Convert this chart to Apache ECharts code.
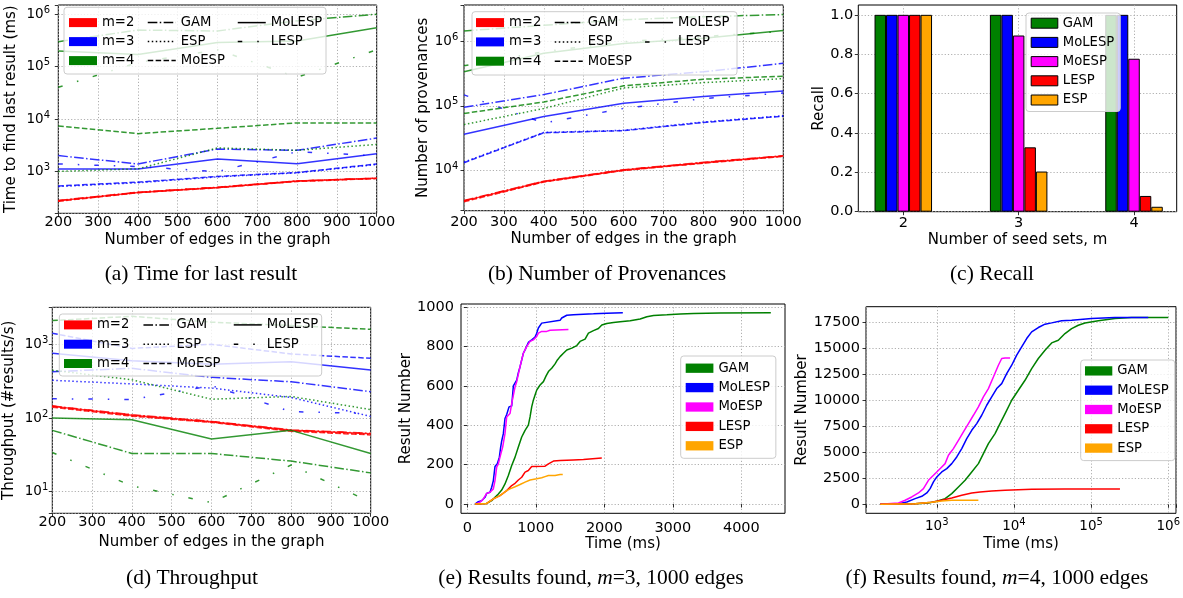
<!DOCTYPE html>
<html><head><meta charset="utf-8">
<script src="https://cdn.jsdelivr.net/npm/echarts@6.0.0/dist/echarts.min.js"></script>
<style>html,body{margin:0;padding:0;background:#fff}#c{width:1183px;height:598px}</style>
</head><body><div id="c"></div>
<script>
// ---------- DATA ----------
const edges = [200, 400, 600, 800, 1000];
const algs = ['GAM', 'ESP', 'MoESP', 'MoLESP', 'LESP'];
const mValues = [2, 3, 4];

// (a) time to find last result (ms)
const a_m2_GAM = [283, 405, 503, 662, 752];
const a_m2_ESP = [276, 400, 497, 655, 745];
const a_m2_MoESP = [272, 396, 492, 650, 738];
const a_m2_MoLESP = [280, 402, 500, 660, 750];
const a_m2_LESP = [278, 408, 505, 665, 755];
const a_m3_GAM = [2020, 1400, 2700, 2550, 4370];
const a_m3_ESP = [520, 615, 795, 950, 1370];
const a_m3_MoESP = [535, 630, 810, 960, 1400];
const a_m3_MoLESP = [1120, 1120, 1740, 1420, 2200];
const a_m3_LESP = [1400, 1250, 1000, 2400, 2000];
const a_m4_GAM = [300000, 500000, 480000, 750000, 1000000];
const a_m4_ESP = [1010, 1130, 2830, 2550, 3300];
const a_m4_MoESP = [7400, 5300, 6700, 8500, 8500];
const a_m4_MoLESP = [200000, 170000, 290000, 310000, 550000];
const a_m4_LESP = [40500, 120000, 210000, 63000, 210000];

// (b) number of provenances
const b_m2_GAM = [3350, 6700, 10100, 13200, 16700];
const b_m2_ESP = [3250, 6550, 9900, 12900, 16400];
const b_m2_MoESP = [3200, 6500, 9800, 12800, 16300];
const b_m2_MoLESP = [3300, 6600, 10000, 13000, 16500];
const b_m2_LESP = [3300, 6650, 10050, 13100, 16600];
const b_m3_GAM = [95000, 150000, 270000, 340000, 460000];
const b_m3_ESP = [13300, 38500, 41500, 56000, 70000];
const b_m3_MoESP = [13000, 38000, 41000, 55000, 69000];
const b_m3_MoLESP = [36000, 68000, 110000, 140000, 170000];
const b_m3_LESP = [148000, 54000, 91000, 130000, 158000];
const b_m4_GAM = [1470000, 1800000, 2200000, 2450000, 2650000];
const b_m4_ESP = [51000, 91000, 190000, 230000, 265000];
const b_m4_MoESP = [76000, 115000, 205000, 260000, 290000];
const b_m4_MoLESP = [340000, 660000, 940000, 1130000, 1500000];
const b_m4_LESP = [420000, 700000, 1000000, 1200000, 1450000];

// (c) recall
const c_GAM = [1.0, 1.0, 1.0];
const c_MoLESP = [1.0, 1.0, 1.0];
const c_MoESP = [1.0, 0.895, 0.777];
const c_LESP = [1.0, 0.327, 0.080];
const c_ESP = [1.0, 0.204, 0.025];

// (d) throughput (#results/s)
const d_m2_GAM = [146, 111, 90, 69, 62];
const d_m2_ESP = [142, 107, 88, 67, 60];
const d_m2_MoESP = [140, 106, 87, 66, 59];
const d_m2_MoLESP = [144, 109, 89, 68, 61];
const d_m2_LESP = [145, 110, 90, 68, 62];
const d_m3_GAM = [425, 472, 356, 310, 228];
const d_m3_ESP = [325, 290, 255, 190, 105];
const d_m3_MoESP = [1410, 880, 1000, 740, 646];
const d_m3_MoLESP = [755, 600, 535, 580, 448];
const d_m3_LESP = [183, 178, 275, 122, 115];
const d_m4_GAM = [68, 33, 33, 26, 18];
const d_m4_ESP = [445, 330, 180, 196, 130];
const d_m4_MoESP = [2100, 2400, 2000, 1800, 1600];
const d_m4_MoLESP = [100, 95, 52, 68, 33];
const d_m4_LESP = [34, 12, 7.1, 23, 7.2];

// (e) results found, m=3, 1000 edges : time (ms) / result number
const e_GAM_t = [112,283,356,404,453,502,550,599,648,697,745,794,843,891,916,940,964,989,1013,1062,1111,1150,1184,1232,1281,1315,1354,1403,1452,1525,1598,1646,1719,1768,1841,1914,1963,2036,2133,2231,2377,2523,2621,2718,2913,3108,3302,3692,4430];
const e_GAM_n = [0,3,17,34,51,71,102,145,196,238,289,340,374,400,442,493,527,553,578,604,621,650,672,689,711,731,748,765,782,791,804,825,837,867,880,891,908,916,921,925,930,939,950,957,960,964,967,969,970];
const e_MoLESP_t = [112,161,209,258,283,331,356,380,404,438,468,487,502,526,550,575,609,648,672,697,721,745,770,784,818,843,891,940,989,1013,1037,1086,1111,1354,1378,1452,1549,1841,2036,2270];
const e_MoLESP_n = [0,12,17,34,54,60,85,119,190,204,238,289,320,357,434,454,493,497,599,604,629,667,697,701,765,782,820,833,847,867,893,918,927,932,944,958,961,965,968,970];
const e_MoESP_t = [127,185,234,283,331,380,404,429,453,477,516,550,575,623,648,697,721,770,818,867,916,964,1013,1037,1086,1159,1208,1476];
const e_MoESP_n = [0,9,26,54,60,77,119,187,204,238,289,357,442,459,510,595,621,697,765,799,825,833,850,867,876,876,882,885];
const e_LESP_t = [112,283,380,477,575,648,697,745,794,843,891,940,964,1135,1184,1208,1257,1354,1549,1695,1719,1963];
const e_LESP_n = [0,3,26,43,68,94,105,122,136,162,170,190,192,192,204,213,218,221,224,226,231,233];
const e_ESP_t = [112,283,380,477,575,623,697,770,843,916,1013,1086,1135,1184,1281,1354,1393];
const e_ESP_n = [0,3,26,43,68,77,88,99,111,122,128,133,139,145,145,150,150];

// (f) results found, m=4, 1000 edges
const f_GAM_t = [185,525,780,1000,1282,1563,1908,2329,2838,3463,4020,4667,5690,6600,7677,9355,11400,13920,16980,20700,25280,30830,37590,45890,55950,68240,83330,124000,203700,335000,1000000];
const f_GAM_n = [0,64,128,288,545,1026,1667,2307,3109,3910,4872,5833,6795,7756,8718,10000,10960,11920,13045,14010,14810,15510,15770,16410,16890,17210,17430,17630,17850,17950,17950];
const f_MoLESP_t = [185,319,409,525,640,743,820,906,1000,1161,1347,1563,1815,2107,2445,2838,3294,3825,4437,5151,5980,6940,8057,9355,10860,12600,14630,16980,20700,25280,30830,41510,55950,101600,203700,550700];
const f_MoLESP_n = [0,64,224,545,769,1090,1506,2147,2628,3109,3429,3910,4551,5352,6314,7115,7756,8557,9519,10320,11120,11600,12560,13365,14330,15130,15930,16570,16990,17310,17435,17630,17690,17850,17950,17950];
const f_MoESP_t = [185,319,389,474,579,672,780,906,1000,1161,1282,1416,1643,1908,2215,2571,2985,3463,4020,4667,5418,6288,6940,7677,8913];
const f_MoESP_n = [0,128,385,705,1090,1506,2307,2788,3109,3590,3910,4712,5352,6154,6955,7756,8557,9358,10320,11120,12240,13365,14010,14070,14070];
const f_LESP_t = [185,525,861,1161,1563,2107,2838,3640,5151,7677,16980,45890,236600];
const f_LESP_n = [0,64,192,385,609,865,1090,1186,1282,1346,1442,1474,1474];
const f_ESP_t = [185,525,861,1161,1563,3460];
const f_ESP_n = [0,64,192,320,385,400];

// tick labels
const recallTicks = [0, 0.2, 0.4, 0.6, 0.8, 1.0];
const seedTicks = [2, 3, 4];
const eTimeTicks = [0, 1000, 2000, 3000, 4000];
const eNumTicks = [0, 200, 400, 600, 800, 1000];
const fNumTicks = [0, 2500, 5000, 7500, 10000, 12500, 15000, 17500];

// ---------- STYLE ----------
const FONT = 'DejaVu Sans';
const BLACK = '#000000';
const M_COLOR = {2: '#ff0000', 3: '#0000ff', 4: '#008000'};
const ALG_COLOR = {GAM: '#008000', MoLESP: '#0000ff', MoESP: '#ff00ff', LESP: '#ff0000', ESP: '#ffa500'};
const DASH = {GAM: [9.6, 2.4, 1.5, 2.4], ESP: [1.5, 2.5], MoESP: [5.5, 2.4], MoLESP: 'solid', LESP: [4.5, 15, 1.5, 15]};
const GRIDLINE = {show: true, lineStyle: {color: '#a6a6a6', type: [1.2, 2], width: 0.9}};
const RICH = {s: {fontSize: 10, fontFamily: FONT, color: BLACK, verticalAlign: 'top', lineHeight: 10}};
const logFmt = v => { const l = Math.log10(v), r = Math.round(l); return Math.abs(l - r) < 1e-6 ? '10{s|' + r + '}' : ''; };
const plainFmt = v => String(v);

const panelData = {
  a: {2: [a_m2_GAM, a_m2_ESP, a_m2_MoESP, a_m2_MoLESP, a_m2_LESP], 3: [a_m3_GAM, a_m3_ESP, a_m3_MoESP, a_m3_MoLESP, a_m3_LESP], 4: [a_m4_GAM, a_m4_ESP, a_m4_MoESP, a_m4_MoLESP, a_m4_LESP]},
  b: {2: [b_m2_GAM, b_m2_ESP, b_m2_MoESP, b_m2_MoLESP, b_m2_LESP], 3: [b_m3_GAM, b_m3_ESP, b_m3_MoESP, b_m3_MoLESP, b_m3_LESP], 4: [b_m4_GAM, b_m4_ESP, b_m4_MoESP, b_m4_MoLESP, b_m4_LESP]},
  d: {2: [d_m2_GAM, d_m2_ESP, d_m2_MoESP, d_m2_MoLESP, d_m2_LESP], 3: [d_m3_GAM, d_m3_ESP, d_m3_MoESP, d_m3_MoLESP, d_m3_LESP], 4: [d_m4_GAM, d_m4_ESP, d_m4_MoESP, d_m4_MoLESP, d_m4_LESP]}
};

function ln(name, idx, xs, ys, color, type, width, opacity) {
  return {type: 'line', name, xAxisIndex: idx, yAxisIndex: idx, data: xs.map((x, i) => [x, ys[i]]),
    symbol: 'none', color, lineStyle: {color, type, width, opacity}, silent: true, z: 2};
}

function mkAxis(o) {
  const ax = {
    gridIndex: o.g, type: o.type || 'value', min: o.min, max: o.max,
    name: o.name, nameLocation: 'middle', nameGap: o.nameGap,
    nameTextStyle: {color: BLACK, fontSize: 15, fontFamily: FONT},
    axisLine: {show: false},
    axisTick: {show: true, length: 3.5, inside: false, lineStyle: {color: BLACK, width: 0.8}},
    axisLabel: {show: true, color: BLACK, fontSize: o.log ? 13.5 : 14.5, fontFamily: FONT, margin: o.margin, formatter: o.fmt},
    splitLine: GRIDLINE
  };
  if (o.type === 'log') ax.logBase = 10;
  if (o.interval) ax.interval = o.interval;
  if (o.log) { ax.axisLabel.rich = RICH; ax.axisLabel.lineHeight = 18; }
  if (o.custom) { ax.axisTick.customValues = o.custom; ax.axisLabel.customValues = o.custom; }
  return ax;
}

const series = [];
// line panels a, b, d
[['a', 0], ['b', 1], ['d', 3]].forEach(([p, idx]) => {
  mValues.forEach(m => {
    algs.forEach((alg, k) => {
      series.push(ln(p + '-' + alg + '-m' + m, idx, edges, panelData[p][m][k], M_COLOR[m], DASH[alg], 1.5, 0.8));
    });
  });
});
// legend-only series
mValues.forEach(m => series.push(ln('m=' + m, 0, [], [], M_COLOR[m], 'solid', 1.5, 1)));
algs.forEach(alg => series.push(ln(alg, 0, [], [], BLACK, DASH[alg], 1.5, 1)));

// (c) bars
const recallData = {GAM: c_GAM, MoLESP: c_MoLESP, MoESP: c_MoESP, LESP: c_LESP, ESP: c_ESP};
const barOrder = ['GAM', 'MoLESP', 'MoESP', 'LESP', 'ESP'];
barOrder.forEach(alg => {
  series.push({type: 'bar', name: alg + '_c', xAxisIndex: 2, yAxisIndex: 2,
    data: mValues.map((m, i) => [m, recallData[alg][i]]), barWidth: 11.5, barGap: '0%',
    itemStyle: {color: ALG_COLOR[alg], borderColor: '#000', borderWidth: 1}, silent: true});
});

// (e), (f) curves
const eCurves = {GAM: [e_GAM_t, e_GAM_n], MoLESP: [e_MoLESP_t, e_MoLESP_n], MoESP: [e_MoESP_t, e_MoESP_n], LESP: [e_LESP_t, e_LESP_n], ESP: [e_ESP_t, e_ESP_n]};
const fCurves = {GAM: [f_GAM_t, f_GAM_n], MoLESP: [f_MoLESP_t, f_MoLESP_n], MoESP: [f_MoESP_t, f_MoESP_n], LESP: [f_LESP_t, f_LESP_n], ESP: [f_ESP_t, f_ESP_n]};
barOrder.forEach(alg => series.push(ln(alg + '_e', 4, eCurves[alg][0], eCurves[alg][1], ALG_COLOR[alg], 'solid', 1.5, 1)));
barOrder.forEach(alg => series.push(ln(alg + '_f', 5, fCurves[alg][0], fCurves[alg][1], ALG_COLOR[alg], 'solid', 1.5, 1)));

// ---------- LAYOUT ----------
const grid = [
  {left: 58.3, top: 5, width: 318.4, height: 208.3},
  {left: 464, top: 5, width: 319.3, height: 205.7},
  {left: 858.3, top: 5, width: 318.4, height: 206.7},
  {left: 52.3, top: 307.3, width: 318.4, height: 206},
  {left: 461, top: 304, width: 324, height: 209.3},
  {left: 866, top: 306.7, width: 310, height: 206.6}
].map(g => Object.assign(g, {show: true, borderColor: '#000', borderWidth: 1, backgroundColor: 'transparent', containLabel: false, outerBoundsMode: 'none'}));

const edgeName = 'Number of edges in the graph';
const xAxis = [
  mkAxis({g: 0, min: 200, max: 1000, interval: 100, name: edgeName, nameGap: 19.7, margin: 1.5, fmt: plainFmt}),
  mkAxis({g: 1, min: 200, max: 1000, interval: 100, name: edgeName, nameGap: 20.8, margin: 3.8, fmt: plainFmt}),
  mkAxis({g: 2, min: 1.61, max: 4.37, custom: seedTicks, name: 'Number of seed sets, m', nameGap: 21.2, margin: 3.8, fmt: v => Number.isInteger(v) ? String(v) : ''}),
  mkAxis({g: 3, min: 200, max: 1000, interval: 100, name: edgeName, nameGap: 21.2, margin: 1, fmt: plainFmt}),
  mkAxis({g: 4, min: -92, max: 4637, custom: eTimeTicks, name: 'Time (ms)', nameGap: 21.2, margin: 7, fmt: v => (v % 1000 === 0 ? String(v) : '')}),
  mkAxis({g: 5, type: 'log', log: true, min: 121, max: 1260000, name: 'Time (ms)', nameGap: 21.7, margin: 4.4, fmt: logFmt})
];
const yAxis = [
  mkAxis({g: 0, type: 'log', log: true, min: 160.7, max: 1500000, name: 'Time to find last result (ms)', nameGap: 39.6, margin: 8.3, fmt: logFmt}),
  mkAxis({g: 1, type: 'log', log: true, min: 2320, max: 3730000, name: 'Number of provenances', nameGap: 33.6, margin: 5.7, fmt: logFmt}),
  mkAxis({g: 2, min: 0, max: 1.05, custom: recallTicks, name: 'Recall', nameGap: 31, margin: 5, fmt: v => (Math.abs(v * 5 - Math.round(v * 5)) < 1e-6 ? v.toFixed(1) : '')}),
  mkAxis({g: 3, type: 'log', log: true, min: 5.09, max: 3180, name: 'Throughput (#results/s)', nameGap: 35.8, margin: 4, fmt: logFmt}),
  mkAxis({g: 4, min: -47, max: 1015, custom: eNumTicks, name: 'Result Number', nameGap: 44.7, margin: 7, fmt: v => (v % 200 === 0 ? String(v) : '')}),
  mkAxis({g: 5, min: -865, max: 18990, custom: fNumTicks, name: 'Result Number', nameGap: 53, margin: 6, fmt: v => (v % 2500 === 0 ? String(v) : '')})
];

const LEG_TEXT = {fontSize: 13.2, fontFamily: FONT, color: BLACK};
function legCol(left, top, gap, names) {
  const isPatch = names[0].indexOf('m=') === 0;
  return {left, top, orient: 'vertical', itemGap: gap, itemWidth: 28, itemHeight: 9, padding: 0, selectedMode: false,
    textStyle: LEG_TEXT, lineStyle: {width: 1.5},
    itemStyle: isPatch ? {borderWidth: 0} : {borderWidth: 0, opacity: 0}, z: 5,
    data: names.map(n => (isPatch ? {name: n, icon: 'rect'} : {name: n}))};
}
function boxLegend(left, top, padding, suffix, w, h, gap, itemStyle) {
  return {left, top, orient: 'vertical', padding, itemGap: gap, itemWidth: w, itemHeight: h, selectedMode: false,
    backgroundColor: 'rgba(255,255,255,0.8)', borderColor: '#cccccc', borderWidth: 1, borderRadius: 3,
    textStyle: LEG_TEXT, formatter: n => n.split('_')[0], itemStyle, z: 5,
    data: barOrder.map(a => ({name: a + suffix, icon: 'rect'}))};
}
const mNames = ['m=2', 'm=3', 'm=4'];
const col2 = ['GAM', 'ESP', 'MoESP'];
const col3 = ['MoLESP', 'LESP'];
const legend = [
  legCol(69, 16.1, 6, mNames), legCol(147, 16.1, 6, col2), legCol(237, 16.1, 6, col3),
  legCol(476, 16.1, 6.3, mNames), legCol(554, 16.1, 6.3, col2), legCol(644.3, 16.1, 6.3, col3),
  legCol(64, 318.4, 6.3, mNames), legCol(142.7, 318.4, 6.3, col2), legCol(233, 318.4, 6.3, col3),
  boxLegend(1026, 13, [3.7, 6, 5, 4.7], '_c', 26.6, 10, 6.2, {borderWidth: 1, borderColor: '#000'}),
  boxLegend(680.7, 356, [5.7, 6, 6, 5], '_e', 27.7, 9.3, 6.4, {borderWidth: 0}),
  boxLegend(1080.7, 360, [4.4, 6, 6, 4.3], '_f', 27.3, 9.3, 6.3, {borderWidth: 0})
];

function box(x, y, w, h) {
  return {type: 'rect', z: 3, shape: {x, y, width: w, height: h, r: 3}, style: {fill: 'rgba(255,255,255,0.8)', stroke: '#cccccc', lineWidth: 1}, silent: true};
}
const CAP_FONT = 'Liberation Serif';
const CAP_RICH = {i: {fontStyle: 'italic', fontFamily: CAP_FONT, fontSize: 21.5, fill: BLACK}};
function cap(x, y, text) {
  return {type: 'text', x, y, silent: true, style: {text, fontFamily: CAP_FONT, fontSize: 21.5, fill: BLACK, align: 'center', verticalAlign: 'middle', rich: CAP_RICH}};
}
const graphic = [
  box(64, 7.3, 262, 66.7), box(472, 11.7, 265, 63.3), box(59.3, 314, 262.4, 62),
  cap(201, 274, '(a) Time for last result'),
  cap(607, 274, '(b) Number of Provenances'),
  cap(992, 274, '(c) Recall'),
  cap(192, 578, '(d) Throughput'),
  cap(591, 578, '(e) Results found, {i|m}=3, 1000 edges'),
  cap(997, 578, '(f) Results found, {i|m}=4, 1000 edges')
];

const chart = echarts.init(document.getElementById('c'), null, {renderer: 'canvas'});
chart.setOption({
  animation: false,
  backgroundColor: '#ffffff',
  textStyle: {fontFamily: FONT},
  grid, xAxis, yAxis, legend, series, graphic
});
</script></body></html>
